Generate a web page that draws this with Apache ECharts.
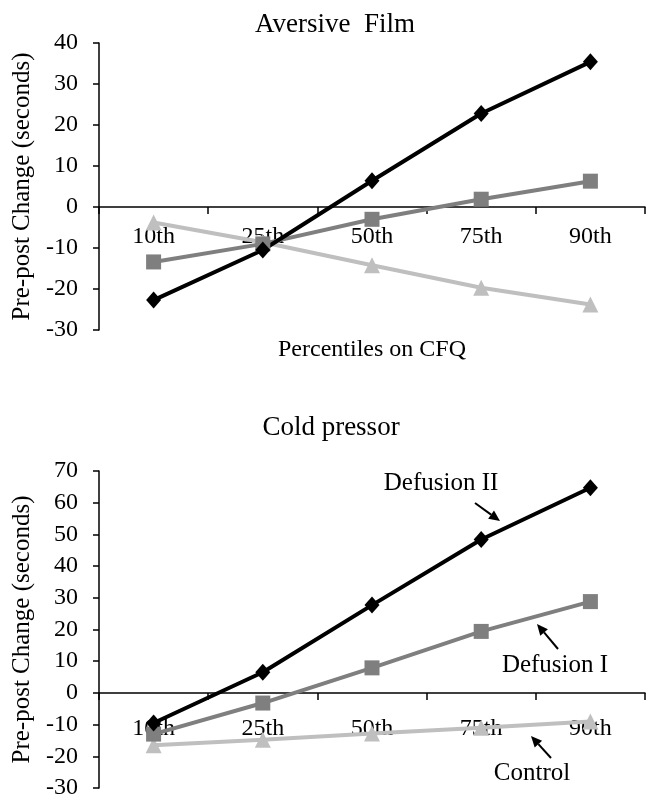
<!DOCTYPE html>
<html>
<head>
<meta charset="utf-8">
<script src="https://cdn.jsdelivr.net/npm/echarts@6/dist/echarts.min.js"></script>
<style>
  html, body { margin: 0; padding: 0; background: #fff; }
  #chart { width: 649px; height: 800px; }
</style>
</head>
<body>
<div id="chart"></div>
<script>
const percentiles = ["10th", "25th", "50th", "75th", "90th"];

// Aversive film
const filmDefusion2 = [-22.7, -10.5, 6.4, 22.8, 35.4];
const filmDefusion1 = [-13.4, -9, -3, 1.9, 6.3];
const filmControl = [-3.8, -8.6, -14.2, -19.7, -23.8];

// Cold pressor
const coldDefusion2 = [-9.5, 6.5, 27.7, 48.4, 64.7];
const coldDefusion1 = [-13, -3.2, 7.9, 19.4, 28.8];
const coldControl = [-16.5, -14.8, -12.8, -11, -9];

const filmTicks = { min: -30, max: 40, interval: 10 };
const coldTicks = { min: -30, max: 70, interval: 10 };

const serif = "'Liberation Serif', 'Times New Roman', serif";
const black = "#000";
const darkGray = "#7f7f7f";
const lightGray = "#bfbfbf";

const chart = echarts.init(document.getElementById("chart"));

// labels sit just under the zero line, not at the grid bottom
function xAxisFor(gridIndex, name, labelMargin) {
  return {
    type: "category",
    gridIndex: gridIndex,
    data: percentiles,
    name: name,
    nameLocation: "middle",
    nameGap: 8,
    nameTextStyle: { fontFamily: serif, fontSize: 24, color: black },
    axisLine: { onZero: true, lineStyle: { color: black, width: 1.5 } },
    axisTick: { show: true, length: 7, inside: false, lineStyle: { color: black, width: 1.5 } },
    axisLabel: { fontFamily: serif, fontSize: 24, color: black, margin: labelMargin },
    splitLine: { show: false }
  };
}

function yAxisFor(gridIndex, ticks) {
  return {
    type: "value",
    gridIndex: gridIndex,
    min: ticks.min,
    max: ticks.max,
    interval: ticks.interval,
    name: "Pre-post Change (seconds)",
    nameLocation: "middle",
    nameRotate: 90,
    nameGap: 57,
    nameTextStyle: { fontFamily: serif, fontSize: 25, color: black },
    axisLine: { show: true, onZero: false, lineStyle: { color: black, width: 1.5 } },
    axisTick: { show: true, length: 6, lineStyle: { color: black, width: 1.5 } },
    axisLabel: { fontFamily: serif, fontSize: 24, color: black, margin: 21 },
    splitLine: { show: false }
  };
}

function lineSeries(idx, name, data, color, symbol, size) {
  return {
    type: "line",
    name: name,
    xAxisIndex: idx,
    yAxisIndex: idx,
    data: data,
    symbol: symbol,
    symbolSize: size,
    showAllSymbol: true,
    lineStyle: { color: color, width: 4 },
    itemStyle: { color: color },
    animation: false
  };
}

// arrow annotation: line plus filled head
function arrow(x1, y1, x2, y2) {
  const ang = Math.atan2(y2 - y1, x2 - x1);
  const len = 11, half = 5;
  const bx = x2 - len * Math.cos(ang), by = y2 - len * Math.sin(ang);
  const px = -Math.sin(ang) * half, py = Math.cos(ang) * half;
  return [
    { type: "line", shape: { x1: x1, y1: y1, x2: bx, y2: by }, style: { stroke: black, lineWidth: 2 } },
    { type: "polygon", shape: { points: [[x2, y2], [bx + px, by + py], [bx - px, by - py]] }, style: { fill: black } }
  ];
}

function label(text, x, y) {
  return {
    type: "text", x: x, y: y,
    style: { text: text, fontFamily: serif, fontSize: 25, fill: black, textAlign: "center", textVerticalAlign: "middle" }
  };
}

const option = {
  backgroundColor: "#fff",
  title: [
    { text: "Aversive  Film", left: 330, top: 6, textAlign: "center",
      textStyle: { fontFamily: serif, fontSize: 27, fontWeight: "normal", color: black } },
    { text: "Cold pressor", left: 326, top: 409, textAlign: "center",
      textStyle: { fontFamily: serif, fontSize: 27, fontWeight: "normal", color: black } }
  ],
  grid: [
    { left: 99, right: 4, top: 43, height: 287 },
    { left: 99, right: 4, top: 471, height: 320 }
  ],
  xAxis: [xAxisFor(0, "Percentiles on CFQ", -105), xAxisFor(1, "", -71)],
  yAxis: [yAxisFor(0, filmTicks), yAxisFor(1, coldTicks)],
  series: [
    lineSeries(0, "Control", filmControl, lightGray, "triangle", 16),
    lineSeries(0, "Defusion I", filmDefusion1, darkGray, "rect", 15),
    lineSeries(0, "Defusion II", filmDefusion2, black, "diamond", [15, 17]),
    lineSeries(1, "Control", coldControl, lightGray, "triangle", 16),
    lineSeries(1, "Defusion I", coldDefusion1, darkGray, "rect", 15),
    lineSeries(1, "Defusion II", coldDefusion2, black, "diamond", [15, 17])
  ],
  graphic: [
    label("Defusion II", 441, 483),
    label("Defusion I", 555, 665),
    label("Control", 532, 773)
  ].concat(arrow(475, 503, 500, 521), arrow(558, 649, 537, 624), arrow(551, 758, 531, 736))
};

chart.setOption(option);
</script>
</body>
</html>
